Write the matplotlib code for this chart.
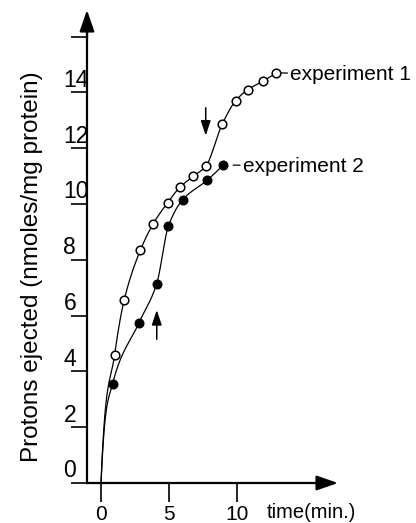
import numpy as np
import matplotlib
matplotlib.use("Agg")
import matplotlib.pyplot as plt

# ---------------- data ----------------
start_time = 0.0
start_protons = 0.0
exp1_time = [1.0, 1.7, 2.9, 3.85, 4.9, 5.8, 6.8, 7.7, 8.9, 9.9, 10.8, 11.9, 12.9]
exp1_protons = [4.6, 6.55, 8.35, 9.3, 10.05, 10.6, 11.0, 11.35, 12.85, 13.7, 14.1, 14.4, 14.7]
exp2_time = [0.85, 2.8, 4.1, 4.95, 6.0, 7.8, 9.0]
exp2_protons = [3.55, 5.75, 7.15, 9.2, 10.15, 10.85, 11.4]
exp1_addition_time = 7.7
exp2_addition_time = 4.1
series_labels = ["experiment 1", "experiment 2"]
xticks = [0, 5, 10]
xtick_labels = ["0", "5", "10"]
yticks = [0, 2, 4, 6, 8, 10, 12, 14, 16]
ytick_labels = ["0", "2", "4", "6", "8", "10", "12", "14", ""]
xlabel = "time(min.)"
ylabel = "Protons ejected (nmoles/mg protein)"

# ---------------- layout ----------------
W, H = 416, 523
X0, Y0 = 101, 483          # pixel of time 0 / protons 0
PX_X, PX_Y = 13.6, 27.9    # pixels per minute / per unit
YAXIS_X = (87 - X0) / PX_X
TEXT_FONT = ["Liberation Sans", "DejaVu Sans"]
DIGIT_FONT = ["Liberation Sans Narrow", "Liberation Sans", "DejaVu Sans"]


def smooth(x, y, n=400):
    """monotone cubic (PCHIP) curve through the given points, for drawing"""
    x = np.asarray(x, float)
    y = np.asarray(y, float)
    h = np.diff(x)
    d = np.diff(y) / h
    k = len(x)
    m = np.zeros(k)
    for i in range(1, k - 1):
        if d[i - 1] * d[i] > 0:
            w1 = 2 * h[i] + h[i - 1]
            w2 = h[i] + 2 * h[i - 1]
            m[i] = (w1 + w2) / (w1 / d[i - 1] + w2 / d[i])
    m[0] = 2.6 * d[0]
    me = ((2 * h[-1] + h[-2]) * d[-1] - h[-1] * d[-2]) / (h[-1] + h[-2])
    m[-1] = max(me, 0)
    xn = np.linspace(x[0], x[-1], n)
    idx = np.clip(np.searchsorted(x, xn) - 1, 0, k - 2)
    t = (xn - x[idx]) / h[idx]
    h00 = 2 * t**3 - 3 * t**2 + 1
    h10 = t**3 - 2 * t**2 + t
    h01 = -2 * t**3 + 3 * t**2
    h11 = t**3 - t**2
    yn = h00 * y[idx] + h10 * h[idx] * m[idx] + h01 * y[idx + 1] + h11 * h[idx] * m[idx + 1]
    return xn, yn


fig = plt.figure(figsize=(W / 100, H / 100), dpi=100)
ax = fig.add_axes([0, 0, 1, 1])
ax.set_xlim(-X0 / PX_X, (W - X0) / PX_X)
ax.set_ylim((Y0 - H) / PX_Y, Y0 / PX_Y)
ax.patch.set_alpha(0)

# curves
for tt, vv in ((exp1_time, exp1_protons), (exp2_time, exp2_protons)):
    cx, cy = smooth([start_time] + tt, [start_protons] + vv)
    ax.plot(cx, cy, color="black", lw=0.9, zorder=2)

ax.plot(exp1_time, exp1_protons, "o", ms=6.2, mfc="white", mec="black", mew=1.1, zorder=3)
ax.plot(exp2_time, exp2_protons, "o", ms=6.2, mfc="black", mec="black", zorder=3)

# series labels with short connector tails
ax.annotate(series_labels[0], xy=(exp1_time[-1], exp1_protons[-1]),
            xytext=(10, -1), textcoords="offset points", ha="left", va="center",
            fontsize=15, family=TEXT_FONT,
            arrowprops=dict(arrowstyle="-", lw=0.9, color="black", shrinkA=0, shrinkB=3))
ax.annotate(series_labels[1], xy=(exp2_time[-1], exp2_protons[-1]),
            xytext=(14, -1), textcoords="offset points", ha="left", va="center",
            fontsize=15, family=TEXT_FONT,
            arrowprops=dict(arrowstyle="-", lw=0.9, color="black", shrinkA=0, shrinkB=7))

# addition arrows
v1 = np.interp(exp1_addition_time, exp1_time, exp1_protons)
ax.annotate("", xy=(exp1_addition_time, v1 + 1.1), xytext=(exp1_addition_time, v1 + 2.1),
            arrowprops=dict(arrowstyle="-|>,head_length=0.9,head_width=0.3",
                            mutation_scale=10, lw=1.1, color="black", shrinkA=0, shrinkB=0))
v2 = np.interp(exp2_addition_time, exp2_time, exp2_protons)
ax.annotate("", xy=(exp2_addition_time, v2 - 0.95), xytext=(exp2_addition_time, v2 - 2.0),
            arrowprops=dict(arrowstyle="-|>,head_length=0.9,head_width=0.3",
                            mutation_scale=10, lw=1.1, color="black", shrinkA=0, shrinkB=0))

# axes
for s in ("top", "right"):
    ax.spines[s].set_visible(False)
ax.spines["left"].set_position(("data", YAXIS_X))
ax.spines["bottom"].set_position(("data", 0))
ytip = (Y0 - 10) / PX_Y
xtip = (338 - X0) / PX_X
ax.spines["left"].set_bounds(0, ytip - 0.4)
ax.spines["bottom"].set_bounds(YAXIS_X, xtip - 0.8)
for s in ("left", "bottom"):
    ax.spines[s].set_linewidth(1.6)
arrow_kw = dict(arrowstyle="-|>,head_length=1.3,head_width=0.45", mutation_scale=10,
                lw=1.6, color="black", shrinkA=0, shrinkB=0)
ax.annotate("", xy=(YAXIS_X, ytip), xytext=(YAXIS_X, ytip - 1.0), arrowprops=arrow_kw)
ax.annotate("", xy=(xtip, 0), xytext=(xtip - 1.5, 0), arrowprops=arrow_kw)

ax.set_yticks(yticks)
ax.set_yticklabels([])
ax.tick_params(axis="y", direction="out", length=11.5, width=1.2)
for v, lab in zip(yticks, ytick_labels):
    if lab:
        ax.annotate(lab, xy=(YAXIS_X, v), xytext=(-17.0, 0.5), textcoords="offset points",
                    ha="left", va="bottom", fontsize=16.5, family=DIGIT_FONT)

ax.set_xticks(xticks)
ax.set_xticklabels(xtick_labels, fontsize=15, family=DIGIT_FONT)
ax.tick_params(axis="x", direction="out", length=14, width=1.2, pad=2)

fig.text(267 / W, 1 - 513 / H, xlabel, ha="left", va="center", fontsize=14.5, family=TEXT_FONT)
fig.text(32 / W, 1 - 267 / H, ylabel, ha="center", va="center", rotation=90,
         fontsize=17.5, family=TEXT_FONT)

fig.savefig("out.png", dpi=100)
